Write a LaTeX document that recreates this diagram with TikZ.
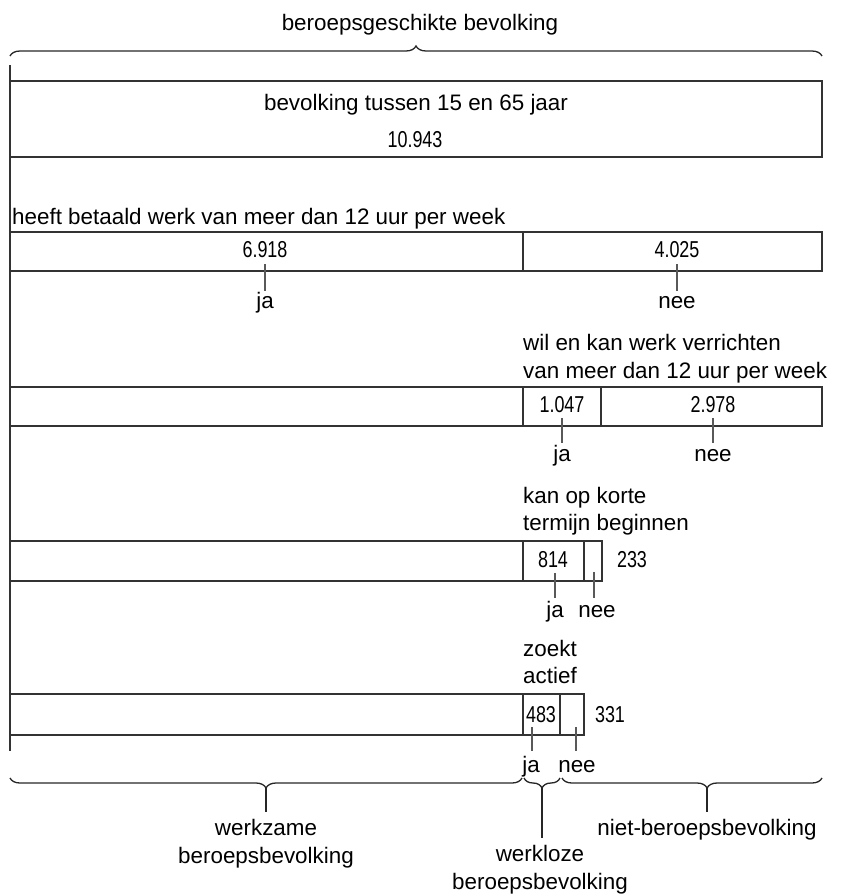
\documentclass[tikz,border=0pt]{standalone}
\usepackage{fontspec}
\setmainfont{Liberation Sans}
\newfontfamily\numfont[FakeStretch=0.78]{Liberation Sans}
\usetikzlibrary{decorations.pathreplacing}
\begin{document}
\begin{tikzpicture}[x=1pt,y=-1pt,
  lbl/.style={font=\fontsize{22.4}{26}\selectfont, inner sep=0pt, anchor=base},
  lbll/.style={lbl, anchor=base west},
  num/.style={font=\numfont\fontsize{23}{26}\selectfont, inner sep=0pt, anchor=base},
  boxline/.style={draw=black!80, line width=1.3pt},
  tickline/.style={draw=black!65, line width=1.1pt},
  brc/.style={decorate, decoration={brace, amplitude=10pt}, draw=black!85, line width=1.3pt}]
\useasboundingbox (0,0) rectangle (852,894);

% top brace
\node[lbl] (tt) at (420,30) {beroepsgeschikte bevolking};
\draw[brc] (10,56) -- (822,56);

% left line
\draw[boxline] (10,65) -- (10,751);

% box 1
\draw[boxline] (10,81) rectangle (822,157);
\node[lbl] (b1t) at (416,110) {bevolking tussen 15 en 65 jaar};
\node[num] (b1n) at (415,147) {10.943};

% box 2
\node[lbll] (q2) at (12,224) {heeft betaald werk van meer dan 12 uur per week};
\draw[boxline] (10,232) rectangle (822,271);
\draw[boxline] (523,232) -- (523,271);
\node[num] (n2a) at (265,257) {6.918};
\node[num] (n2b) at (677,257) {4.025};
\coordinate (t2a) at (265,264); \coordinate (t2b) at (677,264);
\node[lbl] (ja2) at (265,308) {ja};
\node[lbl] (nee2) at (677,308) {nee};
\draw[tickline] (t2a) -- (265,291);
\draw[tickline] (t2b) -- (677,291);

% box 3
\node[lbll] (q3a) at (523,350) {wil en kan werk verrichten};
\node[lbll] (q3b) at (523,378) {van meer dan 12 uur per week};
\draw[boxline] (10,387) rectangle (822,426);
\draw[boxline] (523,387) -- (523,426);
\draw[boxline] (601,387) -- (601,426);
\node[num] (n3a) at (562,412) {1.047};
\node[num] (n3b) at (713,412) {2.978};
\node[lbl] (ja3) at (562,461) {ja};
\node[lbl] (nee3) at (713,461) {nee};
\coordinate (t3a) at (562,418); \coordinate (t3b) at (713,418);
\draw[tickline] (t3a) -- (562,443);
\draw[tickline] (t3b) -- (713,443);

% box 4
\node[lbll] (q4a) at (523,503) {kan op korte};
\node[lbll] (q4b) at (523,530) {termijn beginnen};
\draw[boxline] (10,541) rectangle (602,581);
\draw[boxline] (523,541) -- (523,581);
\draw[boxline] (584,541) -- (584,581);
\node[num] (n4a) at (553,567) {814};
\node[num] (n4b) at (632,567) {233};
\node[lbl] (ja4) at (555,617) {ja};
\node[lbl] (nee4) at (597,617) {nee};
\coordinate (t4a) at (555,573); \coordinate (t4b) at (594,572);
\draw[tickline] (t4a) -- (555,598);
\draw[tickline] (t4b) -- (594,598);

% box 5
\node[lbll] (q5a) at (523,656) {zoekt};
\node[lbll] (q5b) at (523,683) {actief};
\draw[boxline] (10,694) rectangle (584,735);
\draw[boxline] (523,694) -- (523,735);
\draw[boxline] (560,694) -- (560,735);
\node[num] (n5a) at (541,722) {483};
\node[num] (n5b) at (610,722) {331};
\node[lbl] (ja5) at (531,772) {ja};
\node[lbl] (nee5) at (577,772) {nee};
\coordinate (t5a) at (532,727); \coordinate (t5b) at (576,727);
\draw[tickline] (t5a) -- (532,751);
\draw[tickline] (t5b) -- (576,751);

% bottom braces
\draw[brc] (522,778) -- (10,778);
\draw[brc] (560,778) -- (524,778);
\draw[brc, decoration={brace, amplitude=10pt, aspect=0.442}] (822,778) -- (562,778);
\coordinate (bl) at (266,788); \coordinate (bm) at (542,788); \coordinate (br) at (707,788);
\draw[tickline, draw=black!85] (bl) -- (266,812);
\draw[tickline, draw=black!85] (bm) -- (542,838);
\draw[tickline, draw=black!85] (br) -- (707,812);

\node[lbl] (wz1) at (266,835) {werkzame};
\node[lbl] (wz2) at (266,863) {beroepsbevolking};
\node[lbl] (nb) at (707,835) {niet-beroepsbevolking};
\node[lbl] (wl1) at (540,861) {werkloze};
\node[lbl] (wl2) at (540,889) {beroepsbevolking};
\end{tikzpicture}
\end{document}
